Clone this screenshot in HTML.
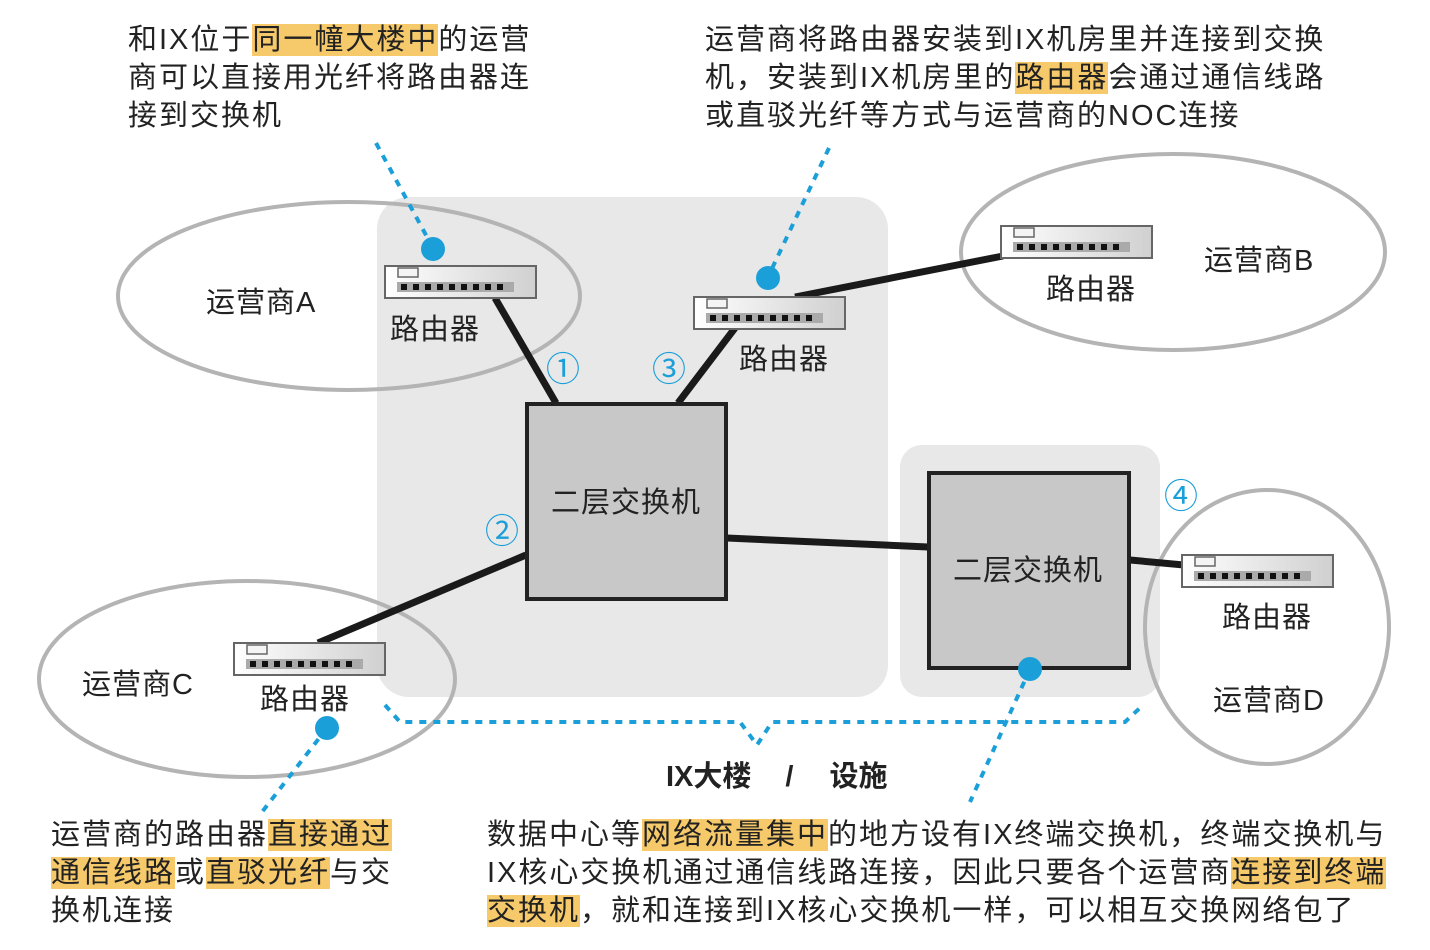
<!DOCTYPE html>
<html><head><meta charset="utf-8"><style>
body{margin:0;width:1430px;height:950px;background:#fff;position:relative;overflow:hidden;font-family:"Liberation Sans","Noto Sans CJK SC",sans-serif;color:#222}
svg{position:absolute;left:0;top:0}
.t{position:absolute;font-size:29px;letter-spacing:2px;line-height:38px;white-space:nowrap}
.h{background:#f6c96a}
.l{position:absolute;font-size:29px;letter-spacing:1px;white-space:nowrap;line-height:34px}
.n{position:absolute;font-size:34px;color:#1a9fd9;line-height:34px}
</style></head><body>
<svg width="1430" height="950">
<defs>
<linearGradient id="g" x1="0" x2="1"><stop offset="0" stop-color="#fff"/><stop offset="1" stop-color="#d0d0d0"/></linearGradient>
<g id="r">
<rect x="0" y="0" width="151" height="32" fill="url(#g)" stroke="#666" stroke-width="2"/>
<rect x="13" y="2" width="20" height="9" fill="#f4f4f4" stroke="#666" stroke-width="1.5"/>
<rect x="12" y="16" width="117" height="10" fill="#aaa"/>
<g fill="#111"><rect x="16" y="18" width="6" height="6"/><rect x="28" y="18" width="6" height="6"/><rect x="40" y="18" width="6" height="6"/><rect x="52" y="18" width="6" height="6"/><rect x="64" y="18" width="6" height="6"/><rect x="76" y="18" width="6" height="6"/><rect x="88" y="18" width="6" height="6"/><rect x="100" y="18" width="6" height="6"/><rect x="112" y="18" width="6" height="6"/></g>
</g>
</defs>
<rect x="377" y="197" width="511" height="500" rx="32" fill="#e8e8e8"/>
<rect x="900" y="445" width="260" height="252" rx="22" fill="#e8e8e8"/>
<g fill="none" stroke="#b4b4b4" stroke-width="4">
<ellipse cx="349" cy="296" rx="231" ry="94"/>
<ellipse cx="1173" cy="252" rx="212" ry="98"/>
<ellipse cx="247" cy="679" rx="208" ry="98"/>
<ellipse cx="1267" cy="627" rx="122" ry="137"/>
</g>
<g stroke="#1a1a1a" stroke-width="7">
<line x1="495" y1="298" x2="556" y2="403"/>
<line x1="795" y1="297" x2="1003" y2="256"/>
<line x1="735" y1="328" x2="678" y2="403"/>
<line x1="318" y1="643" x2="526" y2="555"/>
<line x1="727" y1="538" x2="928" y2="547"/>
<line x1="1130" y1="560" x2="1184" y2="565"/>
</g>
<rect x="527" y="404" width="199" height="195" fill="#c8c8c8" stroke="#222" stroke-width="4"/>
<rect x="929" y="473" width="200" height="195" fill="#c8c8c8" stroke="#222" stroke-width="4"/>
<use href="#r" x="385" y="266"/>
<use href="#r" x="694" y="297"/>
<use href="#r" x="1001" y="226"/>
<use href="#r" x="234" y="643"/>
<use href="#r" x="1182" y="555"/>
<g fill="none" stroke="#1a9fd9" stroke-width="4" stroke-dasharray="7,7">
<line x1="376" y1="143" x2="433" y2="248"/>
<line x1="829" y1="148" x2="768" y2="277"/>
<line x1="327" y1="728" x2="262" y2="812"/>
<line x1="1030" y1="669" x2="970" y2="802"/>
<path d="M385 705 L400 722 L740 722 L757 745 L772 722 L1125 722 L1143 705"/>
</g>
<g fill="#1a9fd9">
<circle cx="433" cy="249" r="12"/><circle cx="768" cy="278" r="12"/>
<circle cx="327" cy="728" r="12"/><circle cx="1030" cy="669" r="12"/>
</g>
</svg>
<div class="n" style="left:546px;top:353px">①</div>
<div class="n" style="left:652px;top:353px">③</div>
<div class="n" style="left:485px;top:515px">②</div>
<div class="n" style="left:1164px;top:480px">④</div>
<div class="l" style="left:206px;top:286px">运营商A</div>
<div class="l" style="left:390px;top:313px">路由器</div>
<div class="l" style="left:739px;top:343px">路由器</div>
<div class="l" style="left:1046px;top:273px">路由器</div>
<div class="l" style="left:1204px;top:244px">运营商B</div>
<div class="l" style="left:82px;top:668px">运营商C</div>
<div class="l" style="left:260px;top:683px">路由器</div>
<div class="l" style="left:1222px;top:601px">路由器</div>
<div class="l" style="left:1213px;top:684px">运营商D</div>
<div class="l" style="left:551px;top:486px">二层交换机</div>
<div class="l" style="left:953px;top:554px">二层交换机</div>
<div class="l" style="left:666px;top:760px;font-weight:bold;letter-spacing:0">IX大楼<span style="margin-left:34px;margin-right:36px">/</span>设施</div>
<div class="t" style="left:128px;top:21px">和IX位于<span class="h">同一幢大楼中</span>的运营<br>商可以直接用光纤将路由器连<br>接到交换机</div>
<div class="t" style="left:705px;top:21px">运营商将路由器安装到IX机房里并连接到交换<br>机，安装到IX机房里的<span class="h">路由器</span>会通过通信线路<br>或直驳光纤等方式与运营商的NOC连接</div>
<div class="t" style="left:51px;top:816px">运营商的路由器<span class="h">直接通过</span><br><span class="h">通信线路</span>或<span class="h">直驳光纤</span>与交<br>换机连接</div>
<div class="t" style="left:487px;top:816px">数据中心等<span class="h">网络流量集中</span>的地方设有IX终端交换机，终端交换机与<br>IX核心交换机通过通信线路连接，因此只要各个运营商<span class="h">连接到终端</span><br><span class="h">交换机</span>，就和连接到IX核心交换机一样，可以相互交换网络包了</div>
</body></html>
